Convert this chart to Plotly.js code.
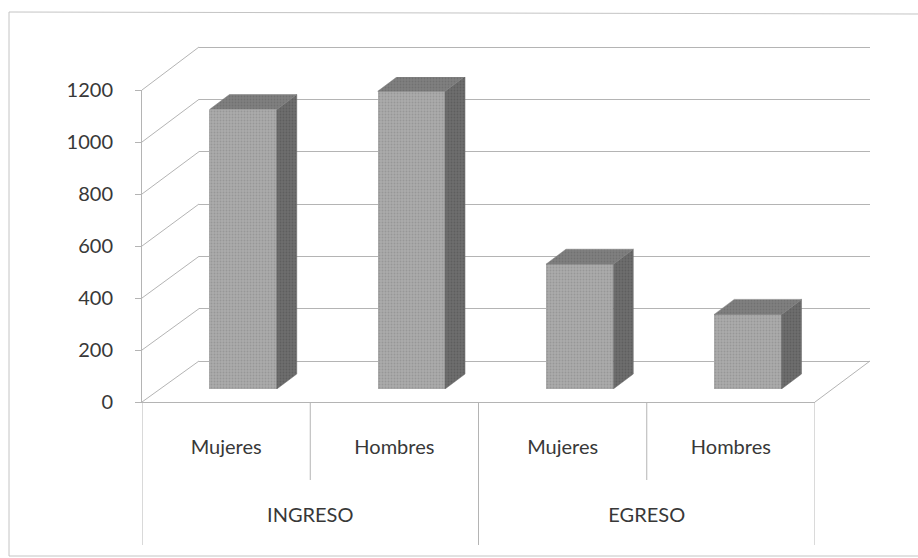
<!DOCTYPE html>
<html>
<head>
<meta charset="utf-8">
<script src="https://cdn.plot.ly/plotly-3.0.1.min.js"></script>
<style>html,body{margin:0;padding:0;background:#fff;}#chart{width:918px;height:558px;}</style>
</head>
<body>
<div id="chart"></div>
<script>
// ---- data ----
const categories = ['Mujeres', 'Hombres', 'Mujeres', 'Hombres'];
const groupOf = ['INGRESO', 'INGRESO', 'EGRESO', 'EGRESO'];
const groups = ['INGRESO', 'EGRESO'];
const values = [1075, 1145, 480, 287];
const yTickVals = [0, 200, 400, 600, 800, 1000, 1200];
const yMax = 1200;

// ---- layout geometry (pixels) ----
const L = 142, R = 870, T = 40, B = 402;
const px = x => (x - L) / (R - L);
const py = y => (B - y) / (B - T);

const frontX = [px(142), px(815)], frontY = [py(402), py(90)];
const barX = [px(159), px(832)], barY = [py(389), py(77)];
// back wall: 0 at y=361, 1200 at y=47; range padded so edge gridlines are drawn
const backPad = 12;
const backPxPerUnit = (361 - 47) / yMax;
const backX = [px(199), px(870)];
const backY = [py(361 + backPad * backPxPerUnit), py(47 - backPad * backPxPerUnit)];
const backRange = [-backPad, yMax + backPad];

const idx = categories.map((c, i) => i);
const xr = [-0.5, categories.length - 0.5];
const hw = 0.2; // half bar width (category units)
const depthPx = [20, 15];
const ddx = depthPx[0] * (xr[1] - xr[0]) / (832 - 159);
const ddy = depthPx[1] * yMax / (389 - 77);

// side / top faces derived from the values
const sideX = [], sideY = [], topX = [], topY = [];
values.forEach((v, i) => {
  sideX.push(i + hw, i + hw + ddx, i + hw + ddx, i + hw, i + hw, null);
  sideY.push(0, ddy, v + ddy, v, 0, null);
  topX.push(i - hw, i - hw + ddx, i + hw + ddx, i + hw, i - hw, null);
  topY.push(v, v + ddy, v + ddy, v, v, null);
});

const groupCenters = groups.map(g => {
  const ii = idx.filter(i => groupOf[i] === g);
  return ii.reduce((a, b) => a + b, 0) / ii.length;
});
const groupBounds = [xr[0]];
idx.forEach(i => { if (i > 0 && groupOf[i] !== groupOf[i - 1]) groupBounds.push(i - 0.5); });
groupBounds.push(xr[1]);
const innerBounds = [];
idx.forEach(i => { if (i > 0 && groupOf[i] === groupOf[i - 1]) innerBounds.push(i - 0.5); });

const textColor = '#383838';
const lineGray = '#b4b4b4';
const font = { family: 'Lato, "Open Sans", sans-serif', size: 20, color: textColor };

const traces = [
  // back wall helper
  { x: idx, y: values.map(() => 0), xaxis: 'x', yaxis: 'y', mode: 'markers',
    marker: { opacity: 0 }, hoverinfo: 'skip', showlegend: false },
  // bars (front faces)
  { type: 'bar', x: idx, y: values, xaxis: 'x2', yaxis: 'y2', width: 2 * hw,
    marker: { color: '#a8a8a8', line: { width: 0 },
      pattern: { shape: '.', size: 3, solidity: 0.3, fgcolor: '#979797', bgcolor: '#ababab' } },
    hoverinfo: 'y', showlegend: false },
  // side faces
  { x: sideX, y: sideY, xaxis: 'x2', yaxis: 'y2', mode: 'lines', fill: 'toself',
    fillcolor: '#6b6b6b', line: { width: 0.5, color: '#6b6b6b' },
    fillpattern: { shape: '.', size: 3, solidity: 0.3, fgcolor: '#5e5e5e', bgcolor: '#6e6e6e' },
    hoverinfo: 'skip', showlegend: false },
  // top faces
  { x: topX, y: topY, xaxis: 'x2', yaxis: 'y2', mode: 'lines', fill: 'toself',
    fillcolor: '#7e7e7e', line: { width: 0.5, color: '#7e7e7e' },
    fillpattern: { shape: '.', size: 3, solidity: 0.3, fgcolor: '#717171', bgcolor: '#808080' },
    hoverinfo: 'skip', showlegend: false },
  // front axes helpers
  { x: idx, y: values.map(() => 0), xaxis: 'x3', yaxis: 'y3', mode: 'markers',
    marker: { opacity: 0 }, hoverinfo: 'skip', showlegend: false },
  { x: groupCenters, y: groupCenters.map(() => 0), xaxis: 'x4', yaxis: 'y3', mode: 'markers',
    marker: { opacity: 0 }, hoverinfo: 'skip', showlegend: false }
];

const backYAt = v => py(361 - v * backPxPerUnit);
const shapes = [];
// left wall diagonals
yTickVals.forEach(v => {
  shapes.push({ type: 'line', xref: 'paper', yref: 'paper', layer: 'below',
    x0: frontX[0], y0: frontY[0] + v / yMax * (frontY[1] - frontY[0]),
    x1: backX[0], y1: backYAt(v),
    line: { color: lineGray, width: 1 } });
});
// right floor edge
shapes.push({ type: 'line', xref: 'paper', yref: 'paper', layer: 'below',
  x0: frontX[1], y0: frontY[0], x1: backX[1], y1: backYAt(0),
  line: { color: lineGray, width: 1 } });
// category dividers
groupBounds.forEach(b => shapes.push({ type: 'line', xref: 'x3', yref: 'paper',
  x0: b, x1: b, y0: 0, y1: py(545), line: { color: lineGray, width: 1 } }));
innerBounds.forEach(b => shapes.push({ type: 'line', xref: 'x3', yref: 'paper',
  x0: b, x1: b, y0: 0, y1: py(480), line: { color: lineGray, width: 1 } }));
// outer chart border (scan frame)
shapes.push({ type: 'line', xref: 'paper', yref: 'paper', x0: px(9), x1: px(9), y0: py(12), y1: py(556),
  line: { color: '#c4c4c4', width: 1 } });
shapes.push({ type: 'line', xref: 'paper', yref: 'paper', x0: px(9), x1: px(918), y0: py(12), y1: py(14),
  line: { color: '#c4c4c4', width: 1 } });
shapes.push({ type: 'line', xref: 'paper', yref: 'paper', x0: px(9), x1: px(918), y0: py(556), y1: py(556),
  line: { color: '#c4c4c4', width: 1 } });

const hidden = { visible: false, fixedrange: true };
const layout = {
  width: 918, height: 558,
  margin: { l: L, r: 918 - R, t: T, b: 558 - B, autoexpand: false },
  paper_bgcolor: '#ffffff', plot_bgcolor: 'rgba(0,0,0,0)',
  font: font, showlegend: false, bargap: 0,
  xaxis: { domain: backX, range: xr, anchor: 'y', showgrid: false, zeroline: false,
    showline: false, showticklabels: false, ticks: '', fixedrange: true },
  yaxis: { domain: backY, range: backRange, anchor: 'x', tickvals: yTickVals, showgrid: true,
    gridcolor: lineGray, gridwidth: 1, zeroline: false, showline: false, showticklabels: false,
    ticks: '', fixedrange: true },
  xaxis2: Object.assign({ domain: barX, range: xr, anchor: 'y2' }, hidden),
  yaxis2: Object.assign({ domain: barY, range: [0, yMax], anchor: 'x2' }, hidden),
  xaxis3: { domain: frontX, range: xr, anchor: 'y3', tickvals: idx, ticktext: categories,
    showgrid: false, zeroline: false, showline: true, linecolor: lineGray, linewidth: 1,
    ticks: '', ticklabelstandoff: 27, tickfont: font, automargin: false, fixedrange: true },
  xaxis4: { overlaying: 'x3', domain: frontX, range: xr, anchor: 'y3', tickvals: groupCenters,
    ticktext: groups, showgrid: false, zeroline: false, showline: false, ticks: '',
    ticklabelstandoff: 99, tickfont: font, automargin: false, fixedrange: true },
  yaxis3: { domain: frontY, range: [0, yMax], anchor: 'x3', tickvals: yTickVals,
    showgrid: false, zeroline: false, showline: true, linecolor: lineGray, linewidth: 1,
    ticks: 'outside', ticklen: 6, tickcolor: lineGray, ticklabelstandoff: 18,
    tickfont: font, automargin: false, fixedrange: true },
  shapes: shapes
};

Plotly.newPlot('chart', traces, layout, { displayModeBar: false, staticPlot: true });
</script>
</body>
</html>
